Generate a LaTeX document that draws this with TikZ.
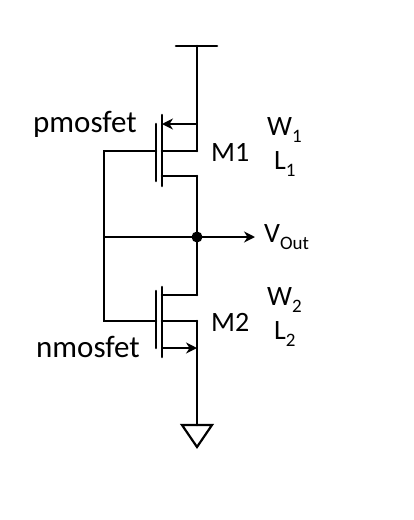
\documentclass[tikz,border=0pt]{standalone}
\usepackage{fontspec}
\setmainfont{Carlito}
\usetikzlibrary{arrows.meta}
\newcommand{\lowsub}[1]{\raisebox{-7.5pt}{\fontsize{19}{19}\selectfont #1}}

\begin{document}
\begin{tikzpicture}[
  x=1pt, y=-1pt,
  wire/.style={draw, line width=2.6pt, line cap=round},
  wire_arrow/.style={wire, line cap=butt, -{Stealth[length=11pt,width=11pt]}},
  dev_label/.style={inner sep=0pt, font=\fontsize{31}{31}\selectfont},
  size_label/.style={inner sep=0pt, font=\fontsize{28}{28}\selectfont}
]
\useasboundingbox (0,0) rectangle (414,520);

% Supply and output rail
\coordinate (vdd_l) at (176,46);
\coordinate (vdd_r) at (217,46);
\coordinate (vdd) at (197,46);
\coordinate (gnd) at (197,425);
\coordinate (gnd_l) at (182,425);
\coordinate (gnd_r) at (212,425);
\coordinate (gnd_tip) at (197,447);
\coordinate (out_l) at (104,237);
\coordinate (out_mid) at (197,237);
\coordinate (out_r) at (255,237);

% M1 corners
\coordinate (m1_src_in) at (162,124);
\coordinate (m1_src) at (197,124);
\coordinate (m1_body_in) at (162,151);
\coordinate (m1_body) at (197,151);
\coordinate (m1_drn_in) at (162,176);
\coordinate (m1_drn) at (197,176);
\coordinate (m1_gate_in) at (156,151);
\coordinate (m1_gate) at (104,151);

% M2 corners
\coordinate (m2_drn_in) at (162,295);
\coordinate (m2_drn) at (197,295);
\coordinate (m2_body_in) at (162,321);
\coordinate (m2_body) at (197,321);
\coordinate (m2_src_in) at (162,348);
\coordinate (m2_src) at (197,348);
\coordinate (m2_gate_in) at (156,321);
\coordinate (m2_gate) at (104,321);

% Channel and gate plates
\coordinate (m1_ch_t) at (162,115);
\coordinate (m1_ch_b) at (162,186);
\coordinate (m1_pl_t) at (156,124);
\coordinate (m1_pl_b) at (156,181);
\coordinate (m2_ch_t) at (162,287);
\coordinate (m2_ch_b) at (162,357);
\coordinate (m2_pl_t) at (156,291);
\coordinate (m2_pl_b) at (156,348);

\draw[wire] (vdd_l) -- (vdd_r);
\draw[wire] (vdd) -- (m1_body);
\draw[wire] (m1_drn) -- (m2_drn);
\draw[wire] (m2_body) -- (gnd);
\draw[wire] (m1_ch_t) -- (m1_ch_b);
\draw[wire] (m1_pl_t) -- (m1_pl_b);
\draw[wire] (m2_ch_t) -- (m2_ch_b);
\draw[wire] (m2_pl_t) -- (m2_pl_b);
\draw[wire] (m1_body_in) -- (m1_body);
\draw[wire] (m1_drn_in) -- (m1_drn);
\draw[wire] (m2_drn_in) -- (m2_drn);
\draw[wire] (m2_body_in) -- (m2_body);
\draw[wire] (m1_gate_in) -- (m1_gate) -- (m2_gate) -- (m2_gate_in);
\draw[wire_arrow] (m1_src) -- (m1_src_in);
\draw[wire_arrow] (m2_src_in) -- (m2_src);
\draw[wire_arrow] (out_l) -- (out_r);
\draw[wire, line width=2.2pt, line join=miter] (gnd_l) -- (gnd_r) -- (gnd_tip) -- cycle;
\fill (out_mid) circle (5.5pt);

% Labels
\node[dev_label, anchor=base west] (pmos_lbl) at (33,132) {pmosfet};
\node[dev_label, anchor=base west] (nmos_lbl) at (36,357) {nmosfet};
\node[size_label, anchor=base west] (m1_lbl) at (211,161) {M1};
\node[size_label, anchor=base west] (m2_lbl) at (211,331) {M2};
\node[size_label, anchor=base west] (w1_lbl) at (267,135) {W\lowsub{1}};
\node[size_label, anchor=base west] (l1_lbl) at (274,169) {L\lowsub{1}};
\node[size_label, anchor=base west] (w2_lbl) at (267,305) {W\lowsub{2}};
\node[size_label, anchor=base west] (l2_lbl) at (274,339) {L\lowsub{2}};
\node[size_label, anchor=base west] (vout_lbl) at (264,242) {V\lowsub{Out}};
\end{tikzpicture}
\end{document}
